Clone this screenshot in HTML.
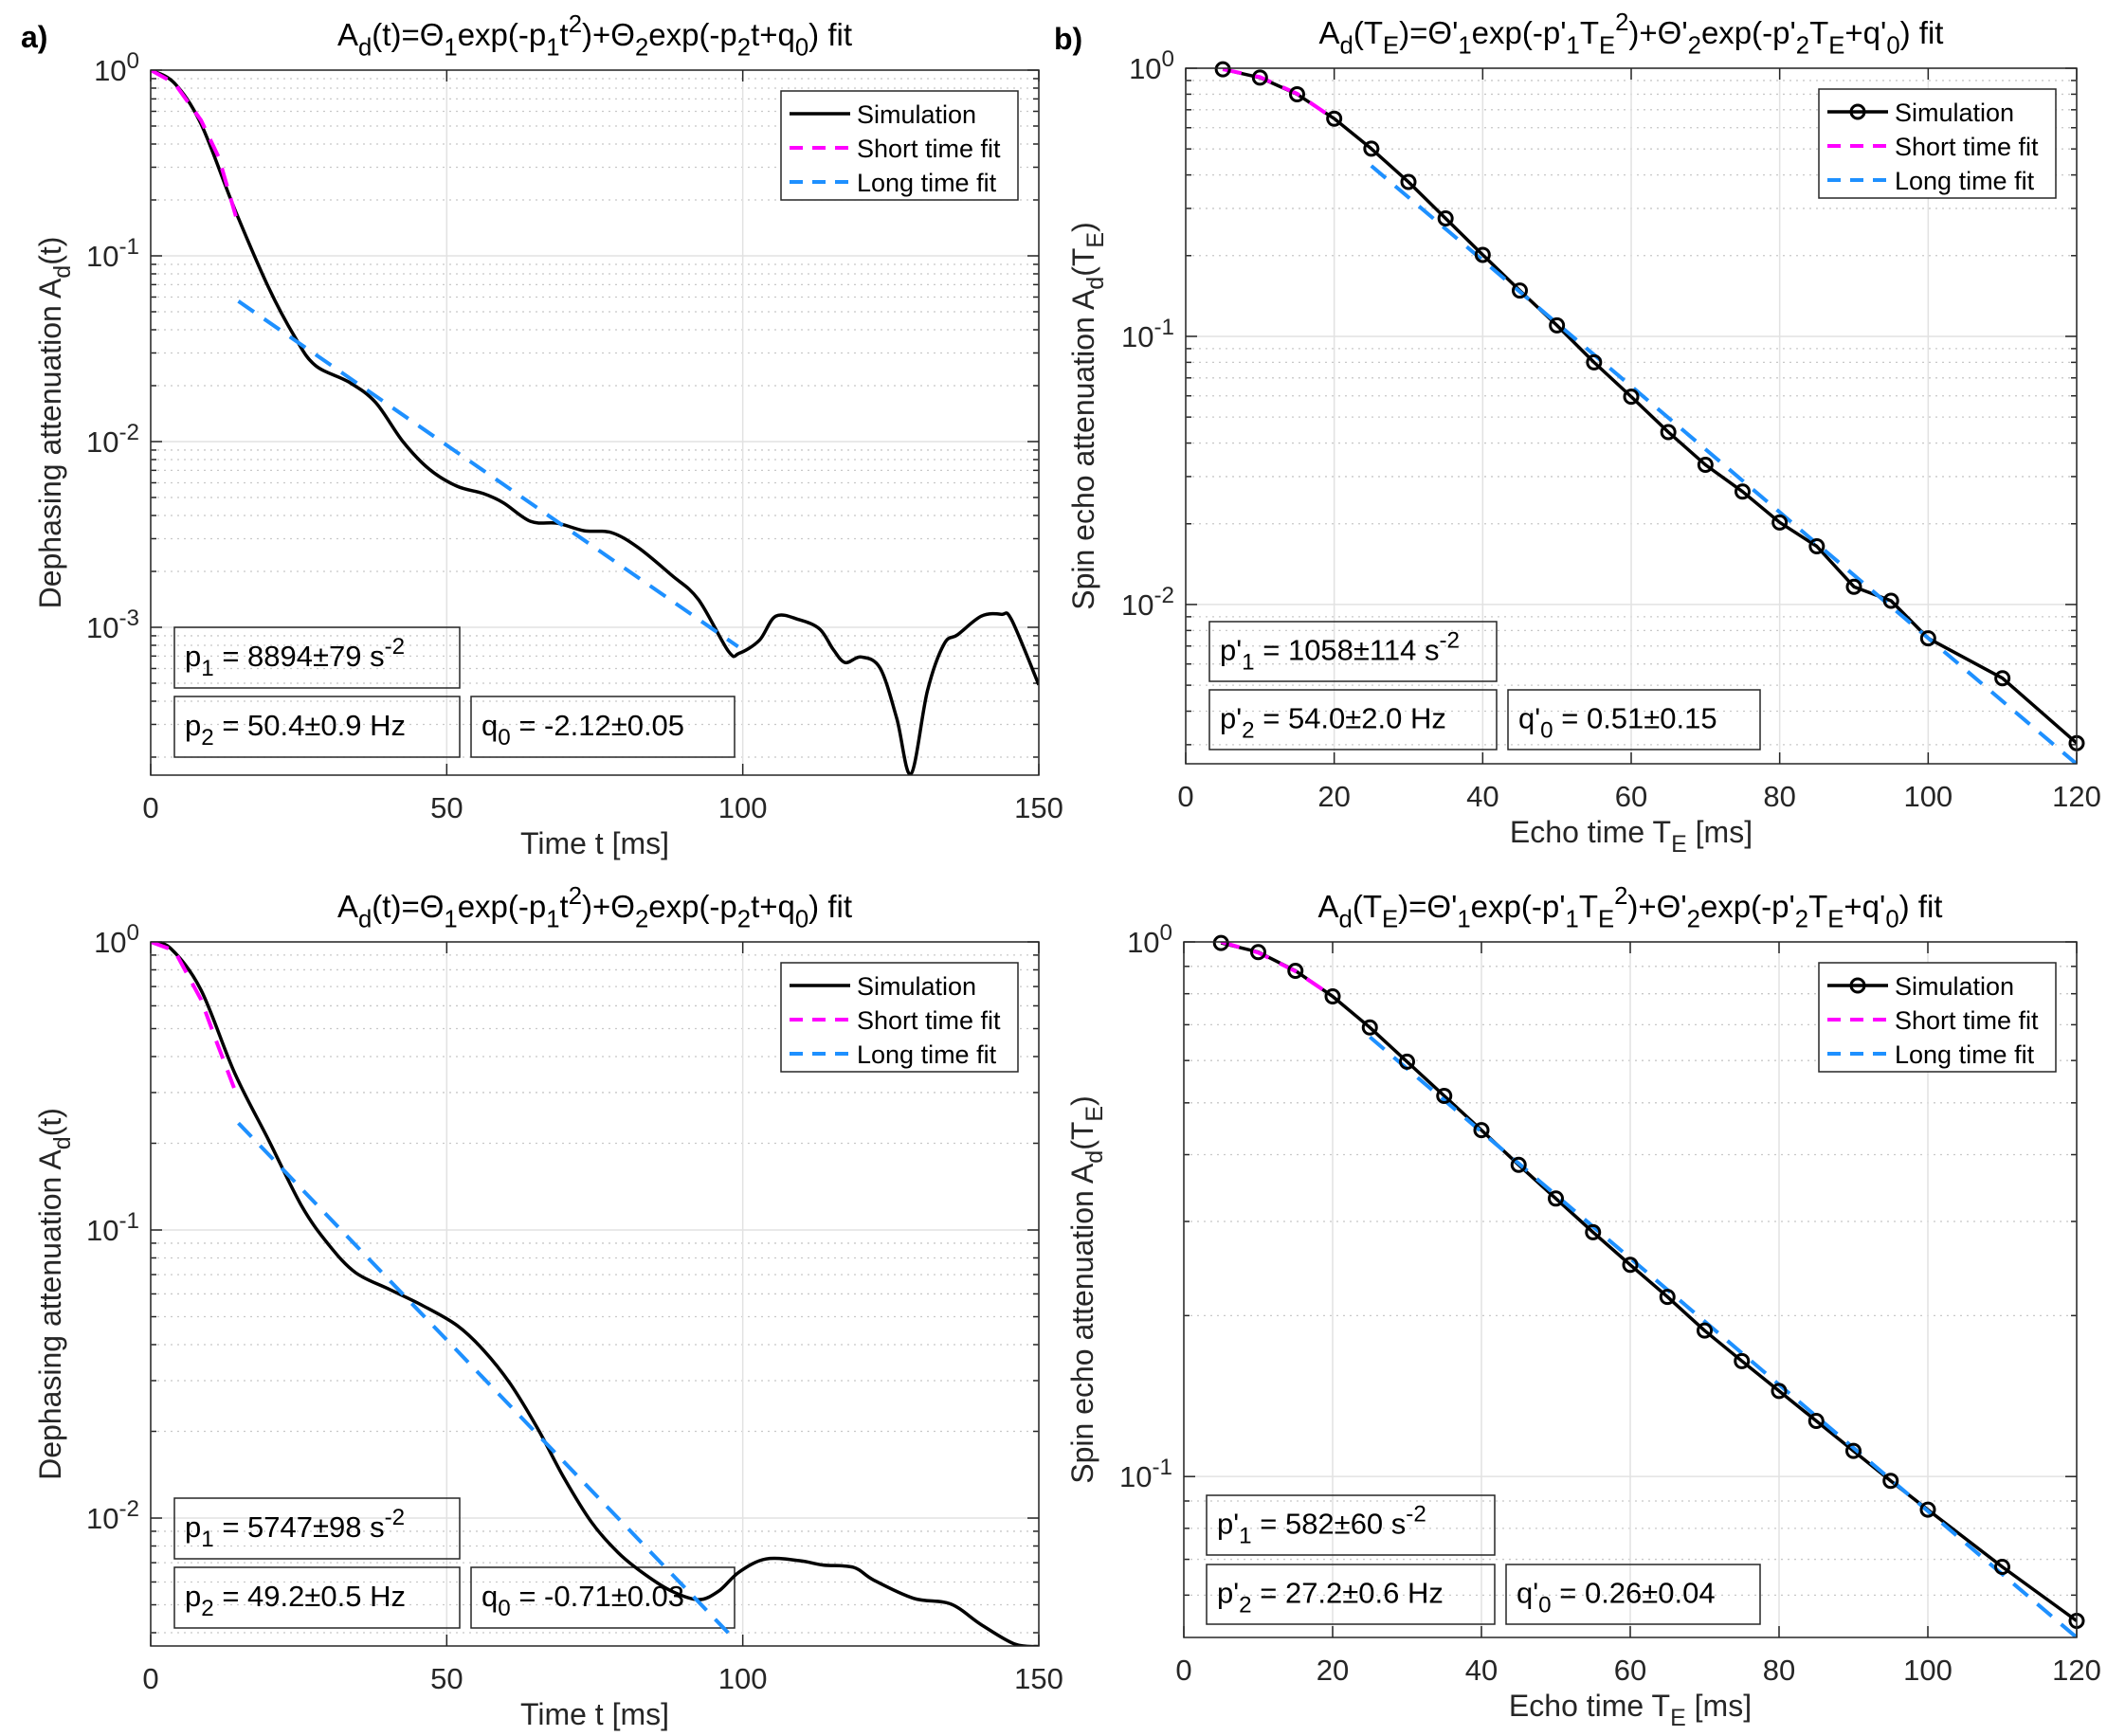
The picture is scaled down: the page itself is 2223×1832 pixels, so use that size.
<!DOCTYPE html>
<html><head><meta charset="utf-8"><style>
html,body{margin:0;padding:0;background:#fff}
svg{display:block;font-family:"Liberation Sans",Arial,sans-serif}
</style></head><body>
<svg id="fig" width="2223" height="1832" viewBox="0 0 2223 1832" xmlns="http://www.w3.org/2000/svg"></svg>
<script>
// ---- Panel a (top): dephasing ----
const tlTime = [0,4,8.5,14.2,19.9,24.4,27.8,33.5,38,42.6,47.1,51.7,56.2,59.6,64.2,68.7,73.2,77.8,82.3,88,92.5,97.6,99.4,102.8,105.6,109.6,113,115.3,117.3,120,123.2,126,128.4,131.2,134,136.3,140.3,143.7,145.4,150];
const tlLog10Att = [0,-0.07,-0.29,-0.75,-1.17,-1.44,-1.59,-1.68,-1.79,-2.0,-2.15,-2.24,-2.28,-2.33,-2.43,-2.44,-2.48,-2.49,-2.57,-2.72,-2.85,-3.13,-3.14,-3.07,-2.94,-2.96,-3.01,-3.12,-3.19,-3.16,-3.22,-3.49,-3.79,-3.34,-3.09,-3.04,-2.94,-2.93,-2.96,-3.31];
const tlShortT = [0,4,8.5,11.5,14.5];
const tlShortLog = [0,-0.07,-0.27,-0.47,-0.8];
const tlLongT = [14.8,99.2];
const tlLongLog = [-1.244,-3.104];
// ---- Panel a (bottom) ----
const blTime = [0,3.4,8.5,14.2,19.9,25.5,30.1,34.6,40.3,46,51.7,56.2,60.7,65.3,69.8,74.4,78.9,83.5,88,92.5,95.9,99.4,103.9,109.6,113.6,118.7,122.1,128.9,135.1,140.2,145.9,150];
const blLog10Att = [0,-0.023,-0.167,-0.456,-0.687,-0.917,-1.052,-1.148,-1.206,-1.263,-1.331,-1.417,-1.533,-1.687,-1.86,-2.013,-2.119,-2.196,-2.254,-2.283,-2.254,-2.187,-2.142,-2.148,-2.163,-2.171,-2.215,-2.279,-2.298,-2.369,-2.437,-2.446];
const blShortT = [0,4,8.5,11,14.5];
const blShortLog = [0,-0.03,-0.2,-0.34,-0.53];
const blLongT = [14.8,98];
const blLongLog = [-0.629,-2.408];
// ---- Panel b (top): spin echo ----
const trEcho = [5,10,15,20,25,30,35,40,45,50,55,60,65,70,75,80,85,90,95,100,110,120];
const trLog10Att = [-0.004,-0.035,-0.097,-0.188,-0.300,-0.424,-0.560,-0.696,-0.829,-0.959,-1.097,-1.225,-1.357,-1.479,-1.579,-1.694,-1.783,-1.934,-1.986,-2.126,-2.275,-2.517];
const trShortT = [5,10,15,19.5];
const trShortLog = [-0.004,-0.033,-0.095,-0.18];
const trLongT = [25,120];
const trLongLog = [-0.364,-2.595];
// ---- Panel b (bottom) ----
const brEcho = [5,10,15,20,25,30,35,40,45,50,55,60,65,70,75,80,85,90,95,100,110,120];
const brLog10Att = [-0.002,-0.019,-0.054,-0.102,-0.160,-0.224,-0.288,-0.352,-0.417,-0.480,-0.543,-0.604,-0.664,-0.727,-0.784,-0.840,-0.896,-0.952,-1.008,-1.062,-1.169,-1.270];
const brShortT = [5,10,15,19.5];
const brShortLog = [0,-0.02,-0.055,-0.097];
const brLongT = [25,120];
const brLongLog = [-0.178,-1.301];
// tick labels
const tXTicks = [0,50,100,150];
const eXTicks = [0,20,40,60,80,100,120];
const tlYDecades = [0,-1,-2,-3];
const blYDecades = [0,-1,-2];
const trYDecades = [0,-1,-2];
const brYDecades = [0,-1];

const NS="http://www.w3.org/2000/svg";
const svg=document.getElementById('fig');
function mk(tag,attrs,parent){const e=document.createElementNS(NS,tag);for(const k in attrs)e.setAttribute(k,attrs[k]);(parent||svg).appendChild(e);return e;}
function rich(parent,str,x,y,size,anchor,extra){
  const t=mk('text',Object.assign({x:x,y:y,'font-size':size,'text-anchor':anchor||'start',fill:'#262626'},extra||{}),parent);
  let off=0;
  const re=/([_^])\{([^}]*)\}|([^_^]+)/g;let m;
  while((m=re.exec(str))){
    let target,txt,fs=size;
    if(m[3]){target=0;txt=m[3];}else{target=m[1]=='_'?size*0.32:-size*0.42;txt=m[2];fs=size*0.78;}
    const ts=mk('tspan',{dy:(target-off).toFixed(1),'font-size':fs.toFixed(1)},t);
    ts.textContent=txt;off=target;
  }
  return t;
}
function smoothPath(P){
  let d='M'+P[0][0].toFixed(1)+','+P[0][1].toFixed(1);
  for(let i=0;i<P.length-1;i++){
    const p0=P[Math.max(0,i-1)],p1=P[i],p2=P[i+1],p3=P[Math.min(P.length-1,i+2)];
    const c1=[p1[0]+(p2[0]-p0[0])/6,p1[1]+(p2[1]-p0[1])/6];
    const c2=[p2[0]-(p3[0]-p1[0])/6,p2[1]-(p3[1]-p1[1])/6];
    d+=' C'+c1[0].toFixed(1)+','+c1[1].toFixed(1)+' '+c2[0].toFixed(1)+','+c2[1].toFixed(1)+' '+p2[0].toFixed(1)+','+p2[1].toFixed(1);
  }
  return d;
}
function panel(c){
  const g=mk('g',{});
  
  
  const X=v=>c.L+(v-c.xmin)/(c.xmax-c.xmin)*(c.R-c.L);
  const Y=l=>c.T+(c.ymax-l)/(c.ymax-c.ymin)*(c.B-c.T);
  const cid='clip-'+c.name;
  const cp=mk('clipPath',{id:cid},g);mk('rect',{x:c.L,y:c.T,width:c.R-c.L,height:c.B-c.T},cp);
  const gg=mk('g',{},g);
  
  
  for(let d=Math.floor(c.ymin);d<=0;d++){for(let m=2;m<=9;m++){const l=d+Math.log10(m);if(l<=c.ymin||l>=c.ymax)continue;const y=Y(l);
    mk('line',{x1:c.L,x2:c.R,y1:y,y2:y,stroke:'#c8c8c8','stroke-width':1.3,'stroke-dasharray':'2 5'},gg);
    mk('line',{x1:c.L,x2:c.L+6,y1:y,y2:y,stroke:'#262626','stroke-width':1.5},gg);
    mk('line',{x1:c.R,x2:c.R-6,y1:y,y2:y,stroke:'#262626','stroke-width':1.5},gg);}}
  c.yDec.forEach(d=>{const y=Y(d);mk('line',{x1:c.L,x2:c.R,y1:y,y2:y,stroke:'#e2e2e2','stroke-width':1.5},gg);});
  c.xt.forEach(v=>{const x=X(v);mk('line',{x1:x,x2:x,y1:c.T,y2:c.B,stroke:'#e2e2e2','stroke-width':1.5},gg);});
  c.yDec.forEach(d=>{const y=Y(d);mk('line',{x1:c.L,x2:c.L+12,y1:y,y2:y,stroke:'#262626','stroke-width':1.5},g);mk('line',{x1:c.R,x2:c.R-12,y1:y,y2:y,stroke:'#262626','stroke-width':1.5},g);
    const tl=rich(g,'10^{'+d+'}',c.L-12,y+11,31,'end');
    
    });
  c.xt.forEach(v=>{const x=X(v);mk('line',{x1:x,x2:x,y1:c.B,y2:c.B-12,stroke:'#262626','stroke-width':1.5},g);mk('line',{x1:x,x2:x,y1:c.T,y2:c.T+12,stroke:'#262626','stroke-width':1.5},g);
    const tl=mk('text',{x:x,y:c.B+45,'font-size':31,'text-anchor':'middle',fill:'#262626'},g);tl.textContent=v;
    
    });
  // text boxes (transparent, under the curves)
  c.boxes.forEach(b=>{const bg=mk('g',{},g);
    
    
    mk('rect',{x:b[0],y:b[1],width:b[2],height:b[3],fill:'none',stroke:'#262626','stroke-width':1.5},bg);
    rich(bg,b[4],b[0]+11,b[1]+b[3]/2+9,31,'start',{fill:'#000'});});
  const sg=mk('g',{'clip-path':'url(#'+cid+')'},g);
  const pts=(xs,ls)=>xs.map((v,i)=>X(v).toFixed(1)+','+Y(ls[i]).toFixed(1)).join(' ');
  let si;
  if(c.smooth){si=mk('path',{d:smoothPath(c.x.map((v,i)=>[X(v),Y(c.l[i])])),fill:'none',stroke:'#000','stroke-width':3.5,'stroke-linejoin':'round'},sg);}
  else si=mk('polyline',{points:pts(c.x,c.l),fill:'none',stroke:'#000','stroke-width':3.5,'stroke-linejoin':'round'},sg);
  
  
  const sh=mk('polyline',{points:pts(c.sx,c.sl),fill:'none',stroke:'#ff00ff','stroke-width':4,'stroke-dasharray':'20 13'},sg);
  
  
  const lo=mk('polyline',{points:pts(c.lx,c.ll),fill:'none',stroke:'#1e90ff','stroke-width':4,'stroke-dasharray':'20 13'},sg);
  
  
  if(c.markers){c.x.forEach((v,i)=>{const p=mk('circle',{cx:X(v),cy:Y(c.l[i]),r:7,fill:'none',stroke:'#000','stroke-width':3},g);
    
    });}
  mk('rect',{x:c.L,y:c.T,width:c.R-c.L,height:c.B-c.T,fill:'none',stroke:'#262626','stroke-width':1.5},g);
  const ti=rich(g,c.title,(c.L+c.R)/2,c.T-26,33,'middle',{fill:'#000'});
  
  
  const xl=rich(g,c.xlabel,(c.L+c.R)/2,c.B+83,32,'middle');
  
  
  const cy=(c.T+c.B)/2;
  const yl=rich(g,c.ylabel,0,0,32,'middle',{transform:'translate('+c.ylx+','+cy+') rotate(-90)'});
  
  
  const lg=mk('g',{},g);
  
  
  const lgx=c.R-22-250, lgy=c.T+22;
  mk('rect',{x:lgx,y:lgy,width:250,height:115,fill:'#fff',stroke:'#262626','stroke-width':1.5},lg);
  [['Simulation','#000',null],['Short time fit','#ff00ff','14 10'],['Long time fit','#1e90ff','14 10']].forEach((e,i)=>{
    const y=lgy+24+36*i;const eg=mk('g',{},lg);
    
    
    const a={x1:lgx+9,x2:lgx+73,y1:y,y2:y,stroke:e[1],'stroke-width':i?4:3.5};if(e[2])a['stroke-dasharray']=e[2];
    mk('line',a,eg);
    if(i==0&&c.markers)mk('circle',{cx:lgx+41,cy:y,r:7,fill:'none',stroke:'#000','stroke-width':3},eg);
    const t=mk('text',{x:lgx+80,y:y+10,'font-size':27,fill:'#000'},eg);t.textContent=e[0];});
}
const tTitle='A_{d}(t)=Θ_{1}exp(-p_{1}t^{2})+Θ_{2}exp(-p_{2}t+q_{0}) fit';
const eTitle="A_{d}(T_{E})=Θ'_{1}exp(-p'_{1}T_{E}^{2})+Θ'_{2}exp(-p'_{2}T_{E}+q'_{0}) fit";
panel({name:'panel-a-top',L:159,R:1096,T:74,B:818,xmin:0,xmax:150,ymin:-3.796,ymax:0,xt:tXTicks,yDec:tlYDecades,smooth:true,
  x:tlTime,l:tlLog10Att,sx:tlShortT,sl:tlShortLog,lx:tlLongT,ll:tlLongLog,title:tTitle,xlabel:'Time t [ms]',ylabel:'Dephasing attenuation A_{d}(t)',ylx:64,
  boxes:[[184,662,301,64,'p_{1} = 8894±79 s^{-2}'],[184,735,301,64,'p_{2} = 50.4±0.9 Hz'],[497,735,278,64,'q_{0} = -2.12±0.05']]});
panel({name:'panel-a-bottom',L:159,R:1096,T:994,B:1737,xmin:0,xmax:150,ymin:-2.444,ymax:0,xt:tXTicks,yDec:blYDecades,smooth:true,
  x:blTime,l:blLog10Att,sx:blShortT,sl:blShortLog,lx:blLongT,ll:blLongLog,title:tTitle,xlabel:'Time t [ms]',ylabel:'Dephasing attenuation A_{d}(t)',ylx:64,
  boxes:[[184,1581,301,64,'p_{1} = 5747±98 s^{-2}'],[184,1654,301,64,'p_{2} = 49.2±0.5 Hz'],[497,1654,278,64,'q_{0} = -0.71±0.03']]});
panel({name:'panel-b-top',L:1251,R:2191,T:72,B:806,xmin:0,xmax:120,ymin:-2.594,ymax:0,xt:eXTicks,yDec:trYDecades,markers:true,
  x:trEcho,l:trLog10Att,sx:trShortT,sl:trShortLog,lx:trLongT,ll:trLongLog,title:eTitle,xlabel:'Echo time T_{E} [ms]',ylabel:'Spin echo attenuation A_{d}(T_{E})',ylx:1154,
  boxes:[[1276,656,303,63,"p'_{1} = 1058±114 s^{-2}"],[1276,728,303,63,"p'_{2} = 54.0±2.0 Hz"],[1591,728,266,63,"q'_{0} = 0.51±0.15"]]});
panel({name:'panel-b-bottom',L:1249,R:2191,T:994,B:1728,xmin:0,xmax:120,ymin:-1.301,ymax:0,xt:eXTicks,yDec:brYDecades,markers:true,
  x:brEcho,l:brLog10Att,sx:brShortT,sl:brShortLog,lx:brLongT,ll:brLongLog,title:eTitle,xlabel:'Echo time T_{E} [ms]',ylabel:'Spin echo attenuation A_{d}(T_{E})',ylx:1153,
  boxes:[[1273,1578,304,63,"p'_{1} = 582±60 s^{-2}"],[1273,1651,304,63,"p'_{2} = 27.2±0.6 Hz"],[1589,1651,268,63,"q'_{0} = 0.26±0.04"]]});
const la=mk('text',{x:22,y:50,'font-size':32,'font-weight':'bold',fill:'#000'});la.textContent='a)';


const lb=mk('text',{x:1112,y:52,'font-size':32,'font-weight':'bold',fill:'#000'});lb.textContent='b)';


</script>
</body></html>
